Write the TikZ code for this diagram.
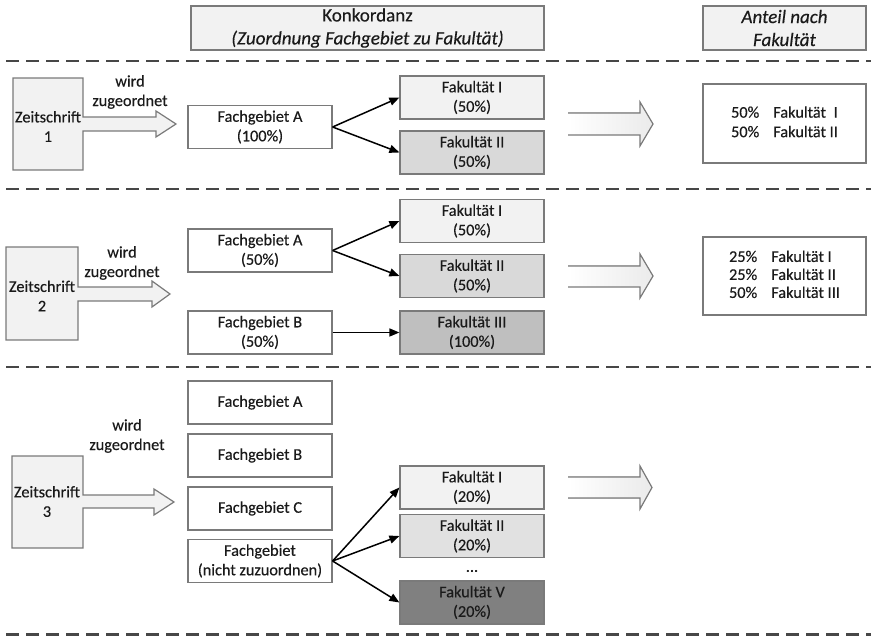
\documentclass[tikz,border=0pt]{standalone}
\usepackage{fontspec}
\setmainfont{Carlito}[FakeBold=0.35]
\usetikzlibrary{arrows.meta}
\definecolor{txt}{HTML}{1A1A1A}
\definecolor{edge}{HTML}{7A7A7A}
\definecolor{fk1}{HTML}{F2F2F2}
\definecolor{fk2}{HTML}{D9D9D9}
\definecolor{fk3}{HTML}{BFBFBF}
\definecolor{fk5}{HTML}{808080}
\definecolor{zs}{HTML}{F2F2F2}
\begin{document}
\begin{tikzpicture}[x=1pt,y=-1pt,
  font=\fontsize{16.3}{19.5}\selectfont, text=txt,
  box/.style={draw=edge, line width=1.2pt, minimum width=144pt, minimum height=43pt, align=center, inner sep=0pt, fill=white},
  fkone/.style={box, fill=fk1},
  fktwo/.style={box, fill=fk2},
  fkthree/.style={box, fill=fk3},
  fkfive/.style={box, fill=fk5},
  headbox/.style={draw=edge, line width=1.2pt, fill=fk1, minimum height=44pt, align=center, inner sep=0pt, font=\fontsize{19}{23}\selectfont},
  resbox/.style={draw=edge, line width=1.2pt, fill=white, minimum width=163pt, inner sep=0pt},
  conn/.style={-{Triangle[length=10pt,width=8pt]}, line width=1.5pt, black},
  sepline/.style={dash pattern=on 13pt off 7pt, line width=2.4pt, black!72},
  zshape/.style={fill=zs, draw=edge, line width=1.2pt, line join=miter},
  bigfill/.style={left color=white, right color=black!8},
  bigline/.style={draw=edge, line width=1.2pt},
  lbl/.style={align=center, inner sep=0pt}
]
\useasboundingbox (0,0) rectangle (871,636);

% headers
\node[headbox, minimum width=353pt] (h1) at (367.5,28) {Konkordanz\\\textit{(Zuordnung Fachgebiet zu Fakultät)}};
\node[headbox, minimum width=163pt] (h2) at (784.5,28) {\textit{Anteil nach}\\\textit{Fakultät}};

% separators
\coordinate (s1a) at (6,61);  \coordinate (s1b) at (871,61);
\coordinate (s2a) at (6,189); \coordinate (s2b) at (871,189);
\coordinate (s3a) at (6,367); \coordinate (s3b) at (871,367);
\coordinate (s4a) at (6,634.5); \coordinate (s4b) at (871,634.5);
\draw[sepline] (s1a) -- (s1b);
\draw[sepline] (s2a) -- (s2b);
\draw[sepline] (s3a) -- (s3b);
\draw[sepline] (s4a) -- (s4b);

% ---------------- Section 1
\draw[zshape] (13,78) -- (83,78) -- (83,117) -- (156,117) -- (156,111) -- (176,124) -- (156,137) -- (156,131) -- (83,131) -- (83,170) -- (13,170) -- cycle;
\node[lbl] (z1) at (48,126.5) {Zeitschrift\\1};
\node[lbl] (w1) at (130,92) {wird\\zugeordnet};

\node[box] (fa1) at (260,127) {Fachgebiet A\\(100\%)};
\node[fkone] (f11) at (472,97.5) {Fakultät I\\(50\%)};
\node[fktwo] (f12) at (472,152.5) {Fakultät II\\(50\%)};
\draw[conn] (fa1.east) -- (f11.west);
\draw[conn] (fa1.east) -- (f12.west);

\fill[bigfill] (568,113) -- (640,113) -- (640,102) -- (653,124) -- (640,146) -- (640,135) -- (568,135) -- cycle;
\draw[bigline] (568,113) -- (640,113) -- (640,102) -- (653,124) -- (640,146) -- (640,135) -- (568,135);

\node[resbox, minimum height=79pt] (r1) at (784.5,123.5) {};
\node[lbl] (r1t) at (r1.center) {\begin{tabular}{@{}r@{\hspace{14pt}}l@{}}50\% & Fakultät\hspace{4pt} I\\50\% & Fakultät II\end{tabular}};

% ---------------- Section 2
\draw[zshape] (6,247) -- (78,247) -- (78,287) -- (152,287) -- (152,281) -- (170,294) -- (152,307) -- (152,301) -- (78,301) -- (78,340) -- (6,340) -- cycle;
\node[lbl] (z2) at (42,296) {Zeitschrift\\2};
\node[lbl] (w2) at (122,263) {wird\\zugeordnet};

\node[box] (fa2) at (260,250.5) {Fachgebiet A\\(50\%)};
\node[box] (fb2) at (260,332.5) {Fachgebiet B\\(50\%)};
\node[fkone] (f21) at (472,221) {Fakultät I\\(50\%)};
\node[fktwo] (f22) at (472,276) {Fakultät II\\(50\%)};
\node[fkthree] (f23) at (472,332.5) {Fakultät III\\(100\%)};
\draw[conn] (fa2.east) -- (f21.west);
\draw[conn] (fa2.east) -- (f22.west);
\draw[conn] (fb2.east) -- (f23.west);

\fill[bigfill] (568,266) -- (640,266) -- (640,254) -- (653,276) -- (640,298) -- (640,287) -- (568,287) -- cycle;
\draw[bigline] (568,266) -- (640,266) -- (640,254) -- (653,276) -- (640,298) -- (640,287) -- (568,287);

\node[resbox, minimum height=78pt] (r2) at (784.5,276) {};
\node[lbl] (r2t) at (r2.center) {\begin{tabular}{@{}r@{\hspace{14pt}}l@{}}25\% & Fakultät I\\[-1.5pt]25\% & Fakultät II\\[-1.5pt]50\% & Fakultät III\end{tabular}};

% ---------------- Section 3
\draw[zshape] (12,456) -- (83,456) -- (83,495) -- (154,495) -- (154,489) -- (174,502) -- (154,515) -- (154,508) -- (83,508) -- (83,548) -- (12,548) -- cycle;
\node[lbl] (z3) at (47,501.5) {Zeitschrift\\3};
\node[lbl] (w3) at (127,436) {wird\\zugeordnet};

\node[box] (fa3) at (260,402.5) {Fachgebiet A};
\node[box] (fb3) at (260,455.5) {Fachgebiet B};
\node[box] (fc3) at (260,508.5) {Fachgebiet C};
\node[box] (fn3) at (260,561) {Fachgebiet\\(nicht zuzuordnen)};
\node[fkone] (f31) at (472,487.5) {Fakultät I\\(20\%)};
\node[fktwo, fill=fk2!80!white] (f32) at (472,536) {Fakultät II\\(20\%)};
\node[lbl] (dots) at (472,571) {...};
\node[fkfive] (f35) at (472,602.5) {Fakultät V\\(20\%)};
\draw[conn] (fn3.east) -- (f31.west);
\draw[conn] (fn3.east) -- (f32.west);
\draw[conn] (fn3.east) -- (f35.west);

\fill[bigfill] (568,477) -- (640,477) -- (640,466) -- (652,487.5) -- (640,509) -- (640,498) -- (568,498) -- cycle;
\draw[bigline] (568,477) -- (640,477) -- (640,466) -- (652,487.5) -- (640,509) -- (640,498) -- (568,498);
\end{tikzpicture}
\end{document}
